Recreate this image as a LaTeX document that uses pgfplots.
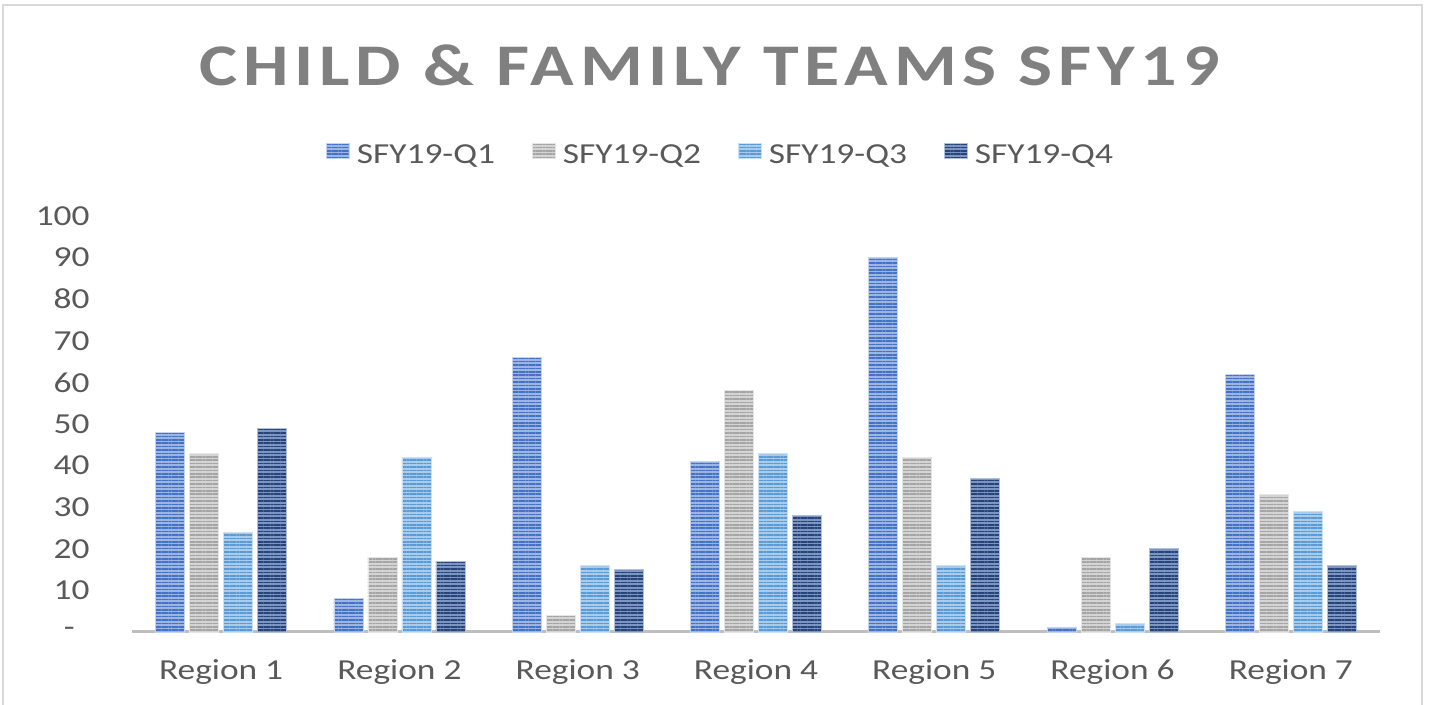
\documentclass[border=0pt]{standalone}
\usepackage{pgfplots}
\pgfplotsset{compat=1.18}
\usetikzlibrary{patterns.meta}
\usepackage{fontspec}
\setmainfont{Carlito}[FakeStretch=1.22]
\newfontfamily\titlefont{Carlito}[FakeStretch=1.22,LetterSpace=9.8]
\definecolor{cA}{HTML}{4472C4}
\definecolor{cAl}{HTML}{9DB5E3}
\definecolor{cB}{HTML}{A5A5A5}
\definecolor{cBl}{HTML}{D4D4D4}
\definecolor{cC}{HTML}{5B9BD5}
\definecolor{cCl}{HTML}{A9CBEC}
\definecolor{cD}{HTML}{264478}
\definecolor{cDl}{HTML}{7C95C2}
\definecolor{txt}{HTML}{595959}
\definecolor{ttl}{HTML}{808080}
\tikzset{
  stripe/.style n args={2}{fill=#2, draw=#2!60!white, line width=0.4pt,
    postaction={pattern={Lines[distance=1.7pt, angle=0, line width=0.85pt]}, pattern color=#1}}
}
\pgfplotstableread{
x q1 q2 q3 q4
0 48 43 24 49
1 8 18 42 17
2 66 4 16 15
3 41 58 43 28
4 90 42 16 37
5 1 18 2 20
6 62 33 29 16
}\datatab
\begin{document}
\begin{tikzpicture}
\path[use as bounding box] (0,0) rectangle (716pt,352.5pt);
\draw[color=black!15, line width=1pt] (1.5pt,0) -- (1.5pt,350pt) -- (711pt,350pt) -- (711pt,0);
\node[anchor=base, text=ttl, font=\titlefont\bfseries\fontsize{29.5}{32}\selectfont, inner sep=0pt] at (354.75pt,309.5pt) {CHILD \& FAMILY TEAMS SFY19};
\begin{axis}[
  at={(66pt,36.5pt)}, anchor=south west,
  scale only axis, width=624pt, height=208pt,
  xmin=-0.5, xmax=6.5, ymin=0, ymax=100,
  ybar=2.5pt, bar width=14.5pt,
  axis x line*=bottom, axis y line*=left,
  x axis line style={draw=black!25, line width=1.5pt},
  y axis line style={draw=none},
  major tick length=0pt,
  xtick={0,...,6},
  xticklabels={Region 1,Region 2,Region 3,Region 4,Region 5,Region 6,Region 7},
  ytick={0,10,...,100},
  yticklabels={{-\rule{7.5pt}{0pt}},10,20,30,40,50,60,70,80,90,100},
  xticklabel style={anchor=base, yshift=-24pt, inner sep=0pt, text=txt, font=\fontsize{14.5}{17}\selectfont},
  yticklabel style={anchor=east, xshift=-21pt, inner sep=0pt, text=txt, font=\fontsize{14.5}{17}\selectfont},
  /pgf/number format/assume math mode=true,
  legend columns=4,
  legend style={at={(0.4708,1.1466)}, anchor=center, draw=none, fill=none,
    font=\fontsize{14.5}{17}\selectfont, text=txt,
    nodes={inner sep=0pt},
    /tikz/every odd column/.append style={column sep=3.5pt},
    /tikz/every even column/.append style={column sep=18.5pt}},
  legend image code/.code={\path[#1] (0pt,-1.2pt) rectangle (11.5pt,6.3pt);},
  clip=false,
]
\addplot[stripe={cA}{cAl}] table[x=x,y=q1]{\datatab};
\addplot[stripe={cB}{cBl}] table[x=x,y=q2]{\datatab};
\addplot[stripe={cC}{cCl}] table[x=x,y=q3]{\datatab};
\addplot[stripe={cD}{cDl}] table[x=x,y=q4]{\datatab};
\legend{SFY19-Q1,SFY19-Q2,SFY19-Q3,SFY19-Q4}
\end{axis}
\end{tikzpicture}
\end{document}
